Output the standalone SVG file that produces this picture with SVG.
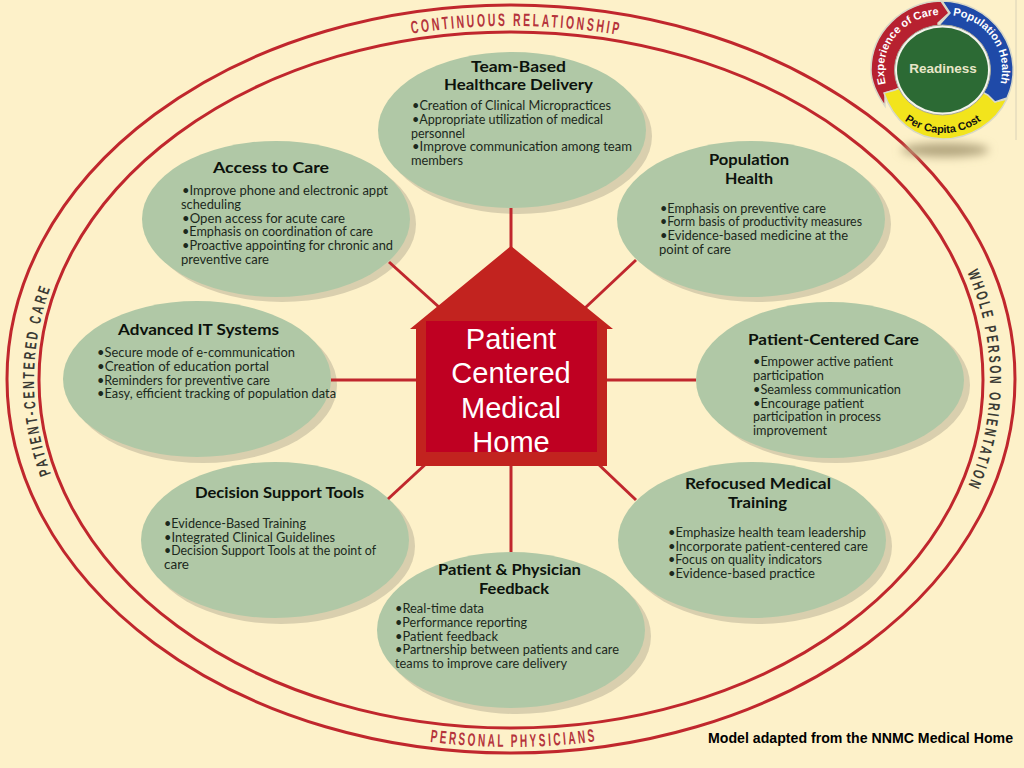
<svg xmlns="http://www.w3.org/2000/svg" width="1024" height="768" viewBox="0 0 1024 768">
<style>
.ring{fill:none;stroke:#c0272d;stroke-width:3}
.spoke{stroke:#c0272d;stroke-width:3;fill:none}
.sh{fill:#d9cfae}
.bd{fill:#b0c8a6}
.t{font-family:"Lato","Open Sans",sans-serif;font-weight:700;font-size:15px;fill:#0c120c}
.b{font-family:"Lato","Open Sans",sans-serif;font-size:12.5px;fill:#1c281c}
.rr{font-family:"Liberation Sans",sans-serif;font-size:18px;letter-spacing:4.5px;font-weight:700;fill:#b5343c}
.rd{font-family:"Liberation Sans",sans-serif;font-size:16px;letter-spacing:4px;font-weight:700;fill:#3a3a34}
.h{font-family:"Liberation Sans",Arial,sans-serif;font-size:29px;fill:#fff;text-anchor:middle}
.l{font-family:"Liberation Sans",Arial,sans-serif;font-weight:700;font-size:11px;fill:#fff}
</style>
<defs>
<path id="pTop" d="M31,380A480,354 0 0 1 991,380"/>
<path id="pBot" d="M24,380A487,367 0 0 0 998,380"/>
<path id="pLeft" d="M511,734A477,354 0 0 1 511,26"/>
<path id="pRight" d="M511,26A479,354 0 0 1 511,734"/>
<path id="pExp" d="M887,88A57,55 0 0 1 943,15"/>
<path id="pPop" d="M948,15A56,55 0 0 1 999,88"/>
<path id="pCost" d="M879,70A64,63 0 0 0 1007,70"/>
<filter id="blur" x="-30%" y="-100%" width="160%" height="300%"><feGaussianBlur stdDeviation="5"/></filter>
</defs>
<rect width="1024" height="768" fill="#fdf1c9"/>
<g id="rings">
<ellipse class="ring" cx="511" cy="379" rx="504" ry="374"/>
<ellipse class="ring" cx="511" cy="380" rx="472" ry="348"/>
<text class="rr"><textPath href="#pTop" startOffset="50.4%" text-anchor="middle" textLength="210" lengthAdjust="spacingAndGlyphs">CONTINUOUS RELATIONSHIP</textPath></text>
<text class="rr"><textPath href="#pBot" startOffset="50.2%" text-anchor="middle" textLength="168" lengthAdjust="spacingAndGlyphs">PERSONAL PHYSICIANS</textPath></text>
<text class="rd"><textPath href="#pLeft" startOffset="50%" text-anchor="middle" textLength="192" lengthAdjust="spacingAndGlyphs">PATIENT-CENTERED CARE</textPath></text>
<text class="rd"><textPath href="#pRight" startOffset="50%" text-anchor="middle" textLength="222" lengthAdjust="spacingAndGlyphs">WHOLE PERSON ORIENTATION</textPath></text>
</g>
<g id="node-team">
<ellipse class="sh" cx="518" cy="136" rx="134" ry="78"/><ellipse class="bd" cx="512" cy="130" rx="134" ry="78"/>
<text class="t" x="471" y="72" textLength="95" lengthAdjust="spacingAndGlyphs">Team-Based</text>
<text class="t" x="444" y="90" textLength="149" lengthAdjust="spacingAndGlyphs">Healthcare Delivery</text>
<text class="b" x="412" y="110" textLength="199" lengthAdjust="spacingAndGlyphs">•Creation of Clinical Micropractices</text>
<text class="b" x="412" y="124" textLength="191" lengthAdjust="spacingAndGlyphs">•Appropriate utilization of medical</text>
<text class="b" x="411" y="137.500" textLength="54" lengthAdjust="spacingAndGlyphs">personnel</text>
<text class="b" x="412" y="151" textLength="220" lengthAdjust="spacingAndGlyphs">•Improve communication among team</text>
<text class="b" x="411" y="165" textLength="52" lengthAdjust="spacingAndGlyphs">members</text>
</g>
<g id="node-access">
<ellipse class="sh" cx="282" cy="224" rx="134" ry="78"/><ellipse class="bd" cx="276" cy="219" rx="134" ry="78"/>
<text class="t" x="213" y="173" textLength="116" lengthAdjust="spacingAndGlyphs">Access to Care</text>
<text class="b" x="182" y="195" textLength="206" lengthAdjust="spacingAndGlyphs">•Improve phone and electronic appt</text>
<text class="b" x="181" y="209" textLength="60" lengthAdjust="spacingAndGlyphs">scheduling</text>
<text class="b" x="182" y="223" textLength="163" lengthAdjust="spacingAndGlyphs">•Open access for acute care</text>
<text class="b" x="182" y="236" textLength="191" lengthAdjust="spacingAndGlyphs">•Emphasis on coordination of care</text>
<text class="b" x="182" y="250" textLength="211" lengthAdjust="spacingAndGlyphs">•Proactive appointing for chronic and</text>
<text class="b" x="181" y="264" textLength="88" lengthAdjust="spacingAndGlyphs">preventive care</text>
</g>
<g id="node-population">
<ellipse class="sh" cx="757" cy="224" rx="134" ry="78"/><ellipse class="bd" cx="751" cy="219" rx="134" ry="78"/>
<text class="t" x="709" y="165" textLength="80" lengthAdjust="spacingAndGlyphs">Population</text>
<text class="t" x="725" y="184" textLength="48" lengthAdjust="spacingAndGlyphs">Health</text>
<text class="b" x="660" y="213" textLength="166" lengthAdjust="spacingAndGlyphs">•Emphasis on preventive care</text>
<text class="b" x="660" y="226" textLength="202" lengthAdjust="spacingAndGlyphs">•Form basis of productivity measures</text>
<text class="b" x="660" y="240" textLength="188" lengthAdjust="spacingAndGlyphs">•Evidence-based medicine at the</text>
<text class="b" x="659" y="254" textLength="72" lengthAdjust="spacingAndGlyphs">point of care</text>
</g>
<g id="node-advanced">
<ellipse class="sh" cx="203" cy="385" rx="134" ry="78"/><ellipse class="bd" cx="197" cy="379" rx="134" ry="78"/>
<text class="t" x="118" y="335" textLength="161" lengthAdjust="spacingAndGlyphs">Advanced IT Systems</text>
<text class="b" x="97" y="357" textLength="198" lengthAdjust="spacingAndGlyphs">•Secure mode of e-communication</text>
<text class="b" x="97" y="371" textLength="172" lengthAdjust="spacingAndGlyphs">•Creation of education portal</text>
<text class="b" x="97" y="385" textLength="173" lengthAdjust="spacingAndGlyphs">•Reminders for preventive care</text>
<text class="b" x="97" y="398" textLength="239" lengthAdjust="spacingAndGlyphs">•Easy, efficient tracking of population data</text>
</g>
<g id="node-centered">
<ellipse class="sh" cx="836" cy="385" rx="134" ry="78"/><ellipse class="bd" cx="830" cy="380" rx="134" ry="78"/>
<text class="t" x="748" y="345" textLength="171" lengthAdjust="spacingAndGlyphs">Patient-Centered Care</text>
<text class="b" x="753" y="366" textLength="140" lengthAdjust="spacingAndGlyphs">•Empower active patient</text>
<text class="b" x="753" y="380" textLength="71" lengthAdjust="spacingAndGlyphs">participation</text>
<text class="b" x="753" y="394" textLength="148" lengthAdjust="spacingAndGlyphs">•Seamless communication</text>
<text class="b" x="753" y="407.500" textLength="111" lengthAdjust="spacingAndGlyphs">•Encourage patient</text>
<text class="b" x="753" y="421" textLength="128" lengthAdjust="spacingAndGlyphs">participation in process</text>
<text class="b" x="753" y="435" textLength="74" lengthAdjust="spacingAndGlyphs">improvement</text>
</g>
<g id="node-decision">
<ellipse class="sh" cx="281" cy="546" rx="134" ry="78"/><ellipse class="bd" cx="275" cy="540" rx="134" ry="78"/>
<text class="t" x="195" y="498" textLength="169" lengthAdjust="spacingAndGlyphs">Decision Support Tools</text>
<text class="b" x="164" y="528" textLength="142" lengthAdjust="spacingAndGlyphs">•Evidence-Based Training</text>
<text class="b" x="164" y="541.500" textLength="171" lengthAdjust="spacingAndGlyphs">•Integrated Clinical Guidelines</text>
<text class="b" x="164" y="555" textLength="212" lengthAdjust="spacingAndGlyphs">•Decision Support Tools at the point of</text>
<text class="b" x="164" y="569" textLength="25" lengthAdjust="spacingAndGlyphs">care</text>
</g>
<g id="node-refocused">
<ellipse class="sh" cx="758" cy="546" rx="134" ry="78"/><ellipse class="bd" cx="752" cy="540" rx="134" ry="78"/>
<text class="t" x="685" y="489" textLength="146" lengthAdjust="spacingAndGlyphs">Refocused Medical</text>
<text class="t" x="728" y="508" textLength="59" lengthAdjust="spacingAndGlyphs">Training</text>
<text class="b" x="668" y="537" textLength="198" lengthAdjust="spacingAndGlyphs">•Emphasize health team leadership</text>
<text class="b" x="668" y="551" textLength="200" lengthAdjust="spacingAndGlyphs">•Incorporate patient-centered care</text>
<text class="b" x="668" y="564" textLength="154" lengthAdjust="spacingAndGlyphs">•Focus on quality indicators</text>
<text class="b" x="668" y="578" textLength="147" lengthAdjust="spacingAndGlyphs">•Evidence-based practice</text>
</g>
<g id="node-feedback">
<ellipse class="sh" cx="517" cy="636" rx="134" ry="78"/><ellipse class="bd" cx="511" cy="630" rx="134" ry="78"/>
<text class="t" x="438" y="575" textLength="143" lengthAdjust="spacingAndGlyphs">Patient &amp; Physician</text>
<text class="t" x="479" y="594" textLength="70" lengthAdjust="spacingAndGlyphs">Feedback</text>
<text class="b" x="395" y="613" textLength="89" lengthAdjust="spacingAndGlyphs">•Real-time data</text>
<text class="b" x="395" y="627" textLength="132" lengthAdjust="spacingAndGlyphs">•Performance reporting</text>
<text class="b" x="395" y="641" textLength="103" lengthAdjust="spacingAndGlyphs">•Patient feedback</text>
<text class="b" x="395" y="654" textLength="224" lengthAdjust="spacingAndGlyphs">•Partnership between patients and care</text>
<text class="b" x="395" y="668" textLength="172" lengthAdjust="spacingAndGlyphs">teams to improve care delivery</text>
</g>
<g id="connectors">
<line class="spoke" x1="511" y1="208" x2="511" y2="250"/>
<line class="spoke" x1="511" y1="460" x2="511" y2="552"/>
<line class="spoke" x1="331" y1="380" x2="420" y2="380"/>
<line class="spoke" x1="600" y1="380" x2="696" y2="380"/>
<line class="spoke" x1="389" y1="262" x2="440" y2="308"/>
<line class="spoke" x1="636" y1="260" x2="585" y2="308"/>
<line class="spoke" x1="388" y1="499" x2="428" y2="462"/>
<line class="spoke" x1="636" y1="500" x2="596" y2="462"/>
</g>
<g id="node-home">
<polygon points="511,246 613,329 607,329 607,466 416,466 416,329 410,329" fill="#c2231f"/>
<rect x="426" y="321" width="171" height="131" fill="#bf0022"/>
<text class="h" x="511" y="349">Patient</text>
<text class="h" x="511" y="383">Centered</text>
<text class="h" x="511" y="418">Medical</text>
<text class="h" x="511" y="452">Home</text>
</g>
<g id="logo">
<line x1="1016" y1="0" x2="1016" y2="140" stroke="#d9d2b8" stroke-width="1"/>
<ellipse cx="945" cy="150" rx="44" ry="7" fill="#b3a67f" filter="url(#blur)"/>
<path d="M885,106C876,93 871,82 871,70A72,69 0 0 1 941,1L949,13L938,23L943,70L895,90L885,93Z" fill="#b72130" stroke="#d8d8c8" stroke-width="1.500"/>
<path d="M1007,99A72,69 0 0 1 943,139C915,139 893,120 884,93L895,90L943,70L988,95L995,102Z" fill="#f2e41c" stroke="#d8d8c8" stroke-width="1.500"/>
<path d="M942,1A72,69 0 0 1 1007,98L995,102L988,95L943,70L940,24L950,13Z" fill="#1f4aa8" stroke="#d8d8c8" stroke-width="1.500"/>
<ellipse cx="942.500" cy="70" rx="48" ry="45" fill="#f4f4ec" stroke="#a8a898" stroke-width="1"/>
<ellipse cx="942.500" cy="70" rx="45.500" ry="42.500" fill="#2c6a34"/>
<text x="943" y="73" text-anchor="middle" font-family="Liberation Sans, Arial, sans-serif" font-weight="700" font-size="13.500" fill="#e8e6c8">Readiness</text>
<text class="l"><textPath href="#pExp" startOffset="50%" text-anchor="middle">Experience of Care</textPath></text>
<text class="l"><textPath href="#pPop" startOffset="50%" text-anchor="middle">Population Health</textPath></text>
<text class="l" style="fill:#111"><textPath href="#pCost" startOffset="50%" text-anchor="middle">Per Capita Cost</textPath></text>
</g>
<text id="credit" x="708" y="743" font-family="Liberation Sans, Arial, sans-serif" font-weight="700" font-size="14px" fill="#000" textLength="305" lengthAdjust="spacingAndGlyphs">Model adapted from the NNMC Medical Home</text>
</svg>
